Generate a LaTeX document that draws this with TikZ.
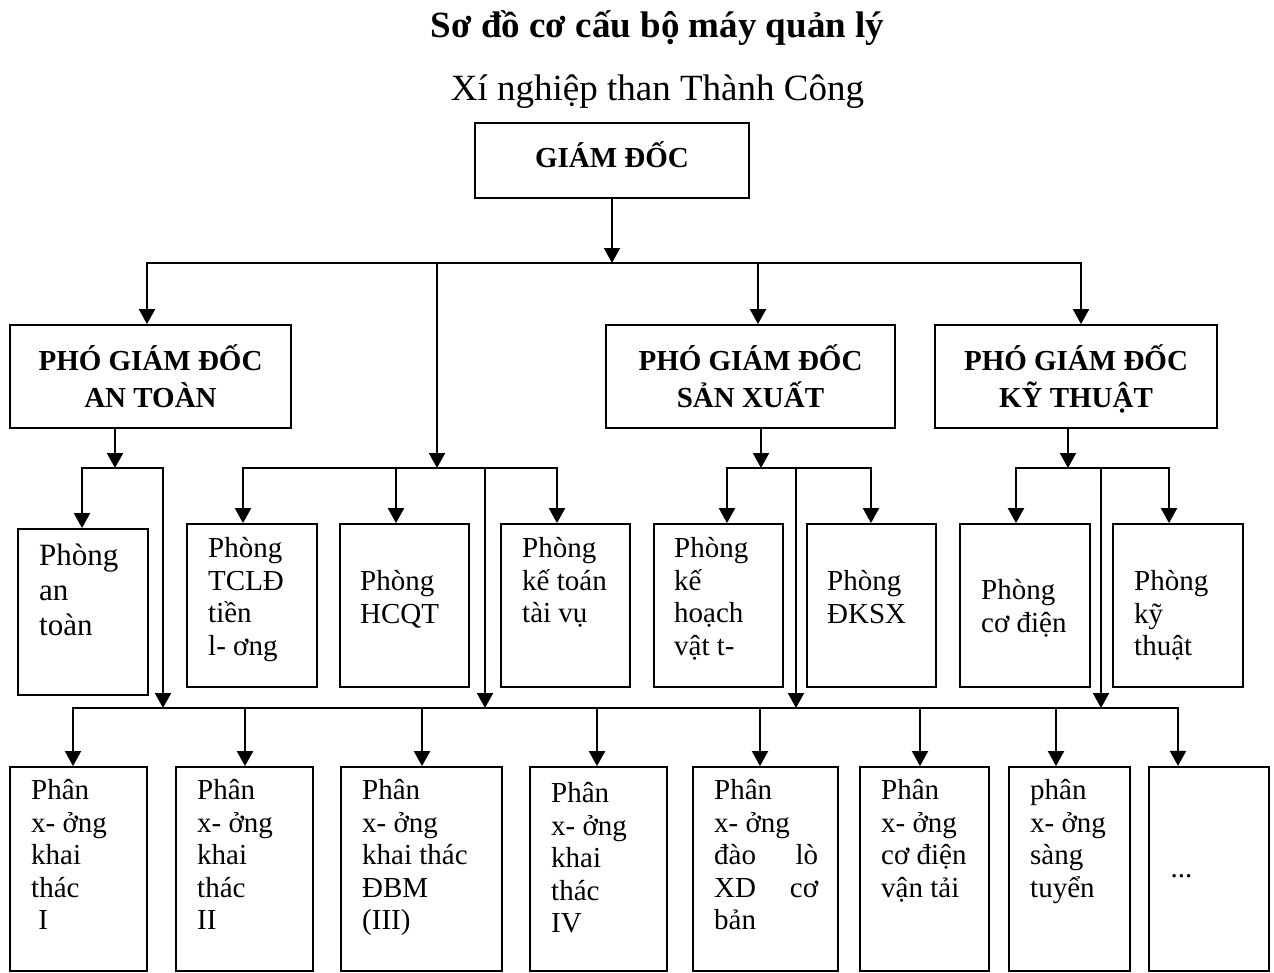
\documentclass[tikz,border=0pt]{standalone}
\usepackage{fontspec}
\setmainfont{Liberation Serif}
\usetikzlibrary{arrows.meta}
\tikzset{
  hop/.style={draw, line width=1.8pt, inner sep=0pt},
  pgd/.style={hop, align=center, font=\bfseries\fontsize{29}{37}\selectfont},
  chu/.style={inner sep=0pt, anchor=north west, align=left,
    font=\fontsize{29}{32.5}\selectfont, execute at begin node=\strut},
  chulon/.style={chu, font=\fontsize{31}{35}\selectfont},
  ln/.style={line width=2pt, line cap=rect},
  arr/.style={line width=2pt, -{Triangle[width=16pt,length=15pt]}},
}

\begin{document}
\begin{tikzpicture}[x=1pt,y=-1pt]
    \useasboundingbox (0,0) rectangle (1274,972);

    \node[font=\bfseries\fontsize{37}{41}\selectfont, anchor=base] (tieude) at (657.5,37) {Sơ đồ cơ cấu bộ máy quản lý};
    \node[font=\fontsize{37}{41}\selectfont, anchor=base] (xinghiep) at (657.5,100) {Xí nghiệp than Thành Công};

    % giam doc va pho giam doc
    \node[pgd, text height=20pt, text depth=7pt, minimum width=274pt, minimum height=75pt] (gd) at (612,160.5) {GIÁM ĐỐC};
    \node[pgd, minimum width=281pt, minimum height=103pt] (pgdat) at (150.5,376.5) {PHÓ GIÁM ĐỐC\\AN TOÀN};
    \node[pgd, minimum width=289pt, minimum height=103pt] (pgdsx) at (750.5,376.5) {PHÓ GIÁM ĐỐC\\SẢN XUẤT};
    \node[pgd, minimum width=282pt, minimum height=103pt] (pgdkt) at (1076,376.5) {PHÓ GIÁM ĐỐC\\KỸ THU\smash{Ậ}T};

    % cac phong
    \node[hop, minimum width=130pt, minimum height=166pt] (pat) at (83,612) {};
    \node[hop, minimum width=130pt, minimum height=163pt] (tcld) at (252,605.5) {};
    \node[hop, minimum width=129pt, minimum height=163pt] (hcqt) at (404.5,605.5) {};
    \node[hop, minimum width=129pt, minimum height=163pt] (ktoan) at (565.5,605.5) {};
    \node[hop, minimum width=129pt, minimum height=163pt] (khvt) at (718.5,605.5) {};
    \node[hop, minimum width=129pt, minimum height=163pt] (dksx) at (871.5,605.5) {};
    \node[hop, minimum width=130pt, minimum height=163pt] (codien) at (1025,605.5) {};
    \node[hop, minimum width=130pt, minimum height=163pt] (kythuat) at (1178,605.5) {};

    \node[chulon] (pat-t) at (39,543.5) {Phòng\\an\\toàn};
    \node[chu] (tcld-t) at (208,537.25) {Phòng\\TCLĐ\\tiền\\l- ơng};
    \node[chu] (hcqt-t) at (360,570.25) {Phòng\\HCQT};
    \node[chu] (ktoan-t) at (522,537.25) {Phòng\\kế toán\\tài vụ};
    \node[chu] (khvt-t) at (674,537.25) {Phòng\\kế\\hoạch\\vật t-};
    \node[chu] (dksx-t) at (827,570.25) {Phòng\\ĐKSX};
    \node[chu] (codien-t) at (981,579.25) {Phòng\\cơ điện};
    \node[chu] (kythuat-t) at (1134,570.25) {Phòng\\kỹ\\thuật};

    % cac phan xuong
    \node[hop, minimum width=137pt, minimum height=204pt] (px1) at (78.5,869) {};
    \node[hop, minimum width=137pt, minimum height=204pt] (px2) at (244.5,869) {};
    \node[hop, minimum width=161pt, minimum height=204pt] (px3) at (421.5,869) {};
    \node[hop, minimum width=137pt, minimum height=204pt] (px4) at (598.5,869) {};
    \node[hop, minimum width=145pt, minimum height=204pt] (px5) at (765.5,869) {};
    \node[hop, minimum width=129pt, minimum height=204pt] (px6) at (924.5,869) {};
    \node[hop, minimum width=121pt, minimum height=204pt] (px7) at (1069.5,869) {};
    \node[hop, line width=2.2pt, minimum width=120pt, minimum height=204pt] (px8) at (1209,869) {};

    \node[chu] (px1-t) at (31,779.25) {Phân\\x- ởng\\khai\\thác\\~I};
    \node[chu] (px2-t) at (197,779.25) {Phân\\x- ởng\\khai\\thác\\II};
    \node[chu] (px3-t) at (362,779.25) {Phân\\x- ởng\\khai thác\\ĐBM\\(III)};
    \node[chu] (px4-t) at (551,782.25) {Phân\\x- ởng\\khai\\thác\\IV};
    \node[chu] (px5-t) at (714,779.25) {Phân\\x- ởng\\\makebox[104pt][s]{đào lò}\\\makebox[104pt][s]{XD cơ}\\bản};
    \node[chu] (px6-t) at (881,779.25) {Phân\\x- ởng\\cơ điện\\vận tải};
    \node[chu] (px7-t) at (1030,779.25) {phân\\x- ởng\\sàng\\tuyển};
    \node[font=\fontsize{29}{32.5}\selectfont, inner sep=0pt, anchor=base] (px8-t) at (1181.5,877) {...};

    % duong noi tang tren
    \coordinate (t1) at (147,263);
    \coordinate (t2) at (1081,263);
    \coordinate (t3) at (437,263);
    \coordinate (t4) at (758,263);
    \draw[ln] (t1) -- (t2);
    \draw[arr] (gd) -- (gd |- t1);
    \draw[arr] (t1) -- (t1 |- pgdat.north);
    \draw[arr] (t4) -- (t4 |- pgdsx.north);
    \draw[arr] (t2) -- (t2 |- pgdkt.north);

    % an toan
    \coordinate (a0) at (115,468);
    \coordinate (a1) at (82,468);
    \coordinate (a2) at (163,468);
    \draw[arr] (a0 |- pgdat.south) -- (a0);
    \draw[ln] (a1) -- (a2);
    \draw[arr] (a1) -- (a1 |- pat.north);

    % khoi giua
    \coordinate (m0) at (437,468);
    \coordinate (m1) at (243,468);
    \coordinate (m2) at (557,468);
    \coordinate (m3) at (396,468);
    \coordinate (m4) at (485,468);
    \draw[arr] (t3) -- (m0);
    \draw[ln] (m1) -- (m2);
    \draw[arr] (m1) -- (m1 |- tcld.north);
    \draw[arr] (m3) -- (m3 |- hcqt.north);
    \draw[arr] (m2) -- (m2 |- ktoan.north);

    % san xuat
    \coordinate (s0) at (761,468);
    \coordinate (s1) at (727,468);
    \coordinate (s2) at (871,468);
    \coordinate (s3) at (796,468);
    \draw[arr] (s0 |- pgdsx.south) -- (s0);
    \draw[ln] (s1) -- (s2);
    \draw[arr] (s1) -- (s1 |- khvt.north);
    \draw[arr] (s2) -- (s2 |- dksx.north);

    % ky thuat
    \coordinate (k0) at (1068,468);
    \coordinate (k1) at (1016,468);
    \coordinate (k2) at (1169,468);
    \coordinate (k3) at (1101,468);
    \draw[arr] (k0 |- pgdkt.south) -- (k0);
    \draw[ln] (k1) -- (k2);
    \draw[arr] (k1) -- (k1 |- codien.north);
    \draw[arr] (k2) -- (k2 |- kythuat.north);

    % xuong cac phan xuong
    \coordinate (l1) at (73,708);
    \coordinate (l2) at (1178,708);
    \draw[arr] (a2) -- (a2 |- l1);
    \draw[arr] (m4) -- (m4 |- l1);
    \draw[arr] (s3) -- (s3 |- l1);
    \draw[arr] (k3) -- (k3 |- l1);
    \draw[ln] (l1) -- (l2);
    \draw[arr] (l1) -- (l1 |- px1.north);
    \draw[arr] (245,708) coordinate (l3) -- (l3 |- px2.north);
    \draw[arr] (422,708) coordinate (l4) -- (l4 |- px3.north);
    \draw[arr] (597,708) coordinate (l5) -- (l5 |- px4.north);
    \draw[arr] (760,708) coordinate (l6) -- (l6 |- px5.north);
    \draw[arr] (920,708) coordinate (l7) -- (l7 |- px6.north);
    \draw[arr] (1056,708) coordinate (l8) -- (l8 |- px7.north);
    \draw[arr] (l2) -- (l2 |- px8.north);

\end{tikzpicture}
\end{document}
